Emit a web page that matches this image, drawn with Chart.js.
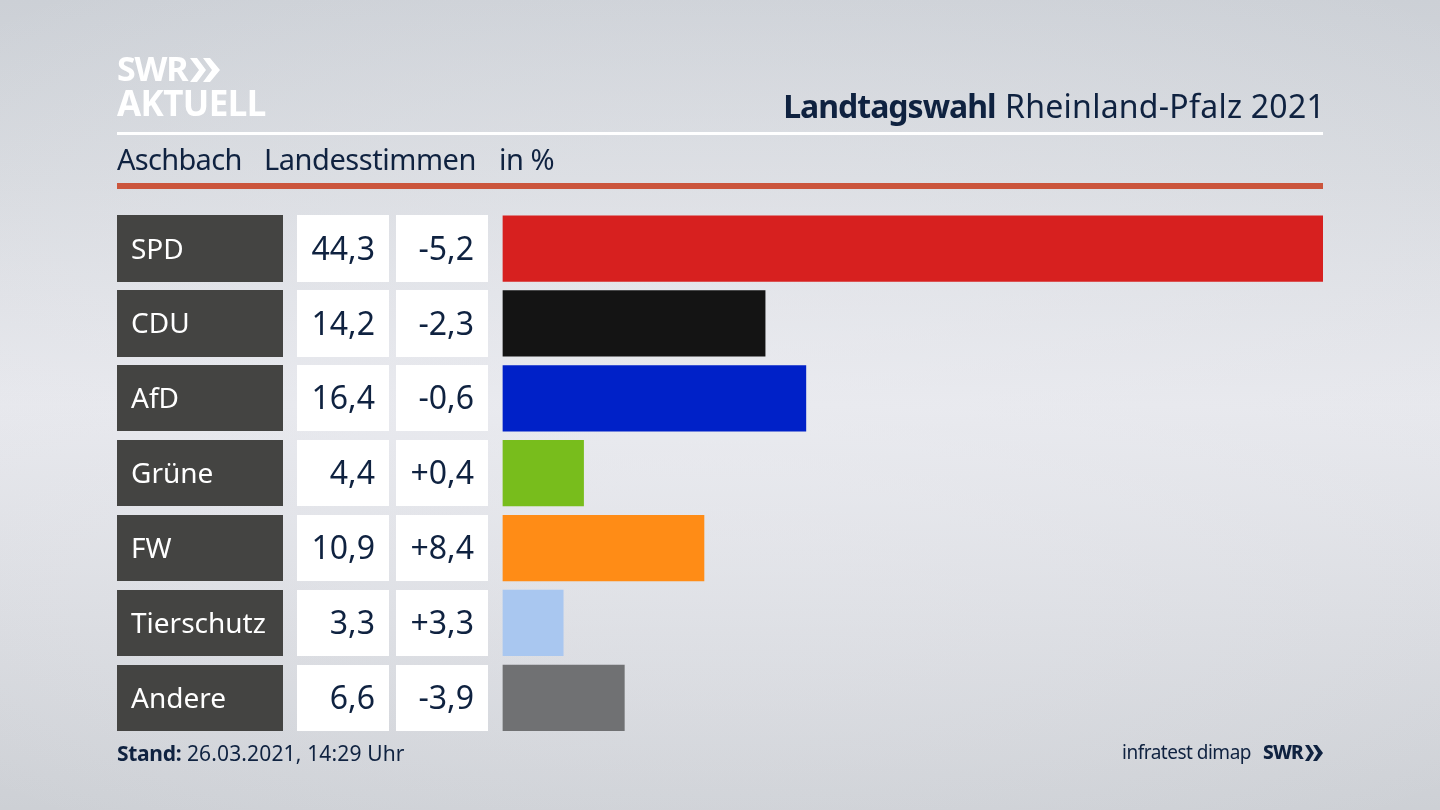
<!DOCTYPE html>
<html lang="de">
<head>
<meta charset="utf-8">
<title>Landtagswahl Rheinland-Pfalz 2021</title>
<script src="https://cdn.jsdelivr.net/npm/chart.js@4"></script>
<style>
  html, body { margin: 0; padding: 0; }
  body {
    position: relative; width: 1440px; height: 810px; overflow: hidden;
    font-family: "Noto Sans", sans-serif; color: #0f2240;
    background:
      radial-gradient(ellipse 1100px 520px at 50% 50%, rgba(236,237,242,.55) 0%, rgba(236,237,242,0) 100%),
      linear-gradient(180deg, #ccd0d6 0%, #d6d9de 22%, #e6e7ec 50%, #d8dadf 78%, #cdd0d5 100%);
  }
  #chart { position: absolute; left: 0; top: 0; width: 1440px; height: 810px; }
  .t { position: absolute; white-space: nowrap; line-height: 1; }
  .rule { position: absolute; left: 117px; width: 1206px; }
  #logo1 { left: 117px; top: 51px; font-size: 34px; font-weight: 700; color: #fff; letter-spacing: -1.2px; }
  #logo2 { left: 117px; top: 85px; font-size: 35px; font-weight: 700; color: #fff; letter-spacing: -.6px; }
  #title { right: 115px; top: 90px; font-size: 32px; letter-spacing: .25px; }
  #title b { font-weight: 700; letter-spacing: -1px; margin-right: 1px; }
  .sub { top: 144px; font-size: 29px; letter-spacing: -.45px; }
  #stand { left: 117px; top: 743px; font-size: 21px; letter-spacing: .15px; }
  #stand b { letter-spacing: -.3px; }
  #inst { left: 1122px; top: 743px; font-size: 19px; letter-spacing: -.5px; }
  #swr2 { left: 1263px; top: 743px; font-size: 19px; font-weight: 800; letter-spacing: -.8px; }
  svg { position: absolute; }
</style>
</head>
<body>
<canvas id="chart" width="1440" height="810"></canvas>

<div class="t" id="logo1">SWR</div>
<svg style="left:189px;top:57px" width="32" height="26" viewBox="0 0 32 26"><path d="M1 1h7l9 12-9 12H1l9-12zM14 1h7l10 12-10 12h-7l9-12z" fill="#fff"/></svg>
<div class="t" id="logo2">AKTUELL</div>
<div class="t" id="title"><b>Landtagswahl</b> Rheinland-Pfalz 2021</div>
<div class="rule" style="top:132px;height:3px;background:#fff"></div>
<div class="t sub" style="left:117px;letter-spacing:-.7px">Aschbach</div>
<div class="t sub" style="left:264px">Landesstimmen</div>
<div class="t sub" style="left:499px">in %</div>
<div class="rule" style="top:183px;height:6px;background:#cb553c"></div>
<div class="t" id="stand"><b>Stand:</b> 26.03.2021, 14:29 Uhr</div>
<div class="t" id="inst">infratest dimap</div>
<div class="t" id="swr2">SWR</div>
<svg style="left:1305px;top:745px" width="18" height="16" viewBox="0 0 18 16"><path d="M0 0h4l5 8-5 8H0l5-8zM8 0h4l6 8-6 8H8l5-8z" fill="#0f2240"/></svg>

<script>
const parties = ['SPD', 'CDU', 'AfD', 'Grüne', 'FW', 'Tierschutz', 'Andere'];
const shares = [44.3, 14.2, 16.4, 4.4, 10.9, 3.3, 6.6];
const changes = [-5.2, -2.3, -0.6, 0.4, 8.4, 3.3, -3.9];
const partyColors = ['#d7201f', '#141414', '#0021c8', '#78bd1c', '#ff8c16', '#a9c7f0', '#707173'];

const ROW_PITCH = 74.88;
const BAR_HEIGHT = 66.3;
const NAVY = '#0f2240';

function fmt(v, signed) {
  let s = Math.abs(v).toFixed(1).replace('.', ',');
  if (!signed) return s;
  return (v < 0 ? '-' : '+') + s;
}

// dark name box and the two white number boxes on each row, plus their text
const rowBoxes = {
  id: 'rowBoxes',
  beforeDatasetsDraw(chart) {
    let ctx = chart.ctx;
    let y = chart.scales.y;
    ctx.save();
    parties.forEach((p, i) => {
      let mid = y.getPixelForValue(i);
      let top = Math.round(mid - BAR_HEIGHT / 2);
      let h = Math.round(mid + BAR_HEIGHT / 2) - top;
      ctx.fillStyle = '#444442';
      ctx.fillRect(117, top, 166, h);
      ctx.fillStyle = '#fff';
      ctx.fillRect(297, top, 92, h);
      ctx.fillRect(396, top, 92, h);
    });
    ctx.restore();
  },
  afterDatasetsDraw(chart) {
    let ctx = chart.ctx;
    let y = chart.scales.y;
    ctx.save();
    ctx.textBaseline = 'middle';
    parties.forEach((p, i) => {
      let mid = y.getPixelForValue(i) + 2;
      ctx.font = '28px "Noto Sans"';
      ctx.fillStyle = '#fff';
      ctx.textAlign = 'left';
      ctx.fillText(p, 131, mid);
      ctx.font = '32px "Noto Sans"';
      ctx.fillStyle = NAVY;
      ctx.textAlign = 'right';
      ctx.fillText(fmt(shares[i], false), 375, mid);
      ctx.fillText(fmt(changes[i], true), 474, mid);
    });
    ctx.restore();
  }
};

new Chart(document.getElementById('chart').getContext('2d'), {
  type: 'bar',
  plugins: [rowBoxes],
  data: {
    labels: parties,
    datasets: [{
      data: shares,
      backgroundColor: partyColors,
      barPercentage: BAR_HEIGHT / ROW_PITCH,
      categoryPercentage: 1
    }]
  },
  options: {
    indexAxis: 'y',
    responsive: false,
    animation: false,
    layout: { padding: { left: 117, right: 117, top: 211.1, bottom: 74.75 } },
    plugins: { legend: { display: false }, tooltip: { enabled: false }, title: { display: false } },
    scales: {
      x: { display: false, min: 0, max: 44.3 },
      y: {
        afterFit(scale) { scale.width = 385.4; },
        border: { display: false },
        grid: { display: false, drawTicks: false },
        ticks: { display: false }
      }
    }
  }
});
</script>
</body>
</html>
